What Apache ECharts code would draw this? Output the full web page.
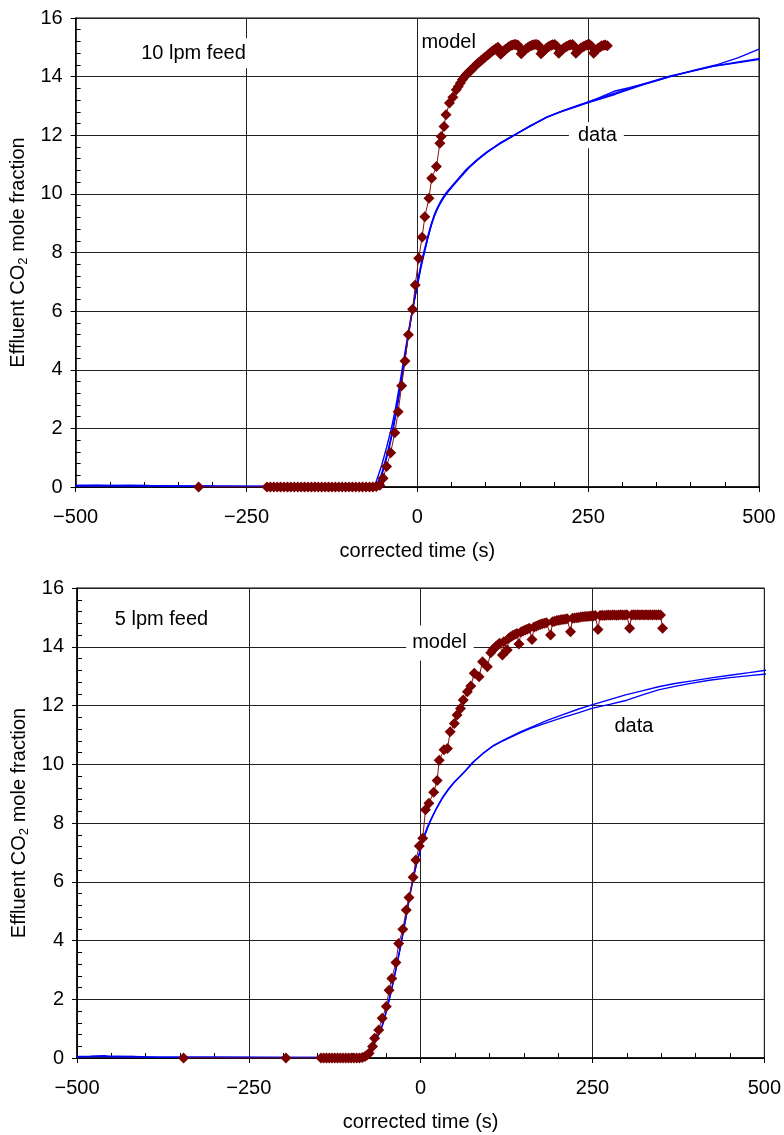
<!DOCTYPE html>
<html>
<head>
<meta charset="utf-8">
<script src="https://cdn.jsdelivr.net/npm/echarts@6/dist/echarts.min.js"></script>
<style>
  html, body { margin: 0; background: #fff; }
  #chart { width: 784px; height: 1135px; }
</style>
</head>
<body>
<div id="chart"></div>
<script>
// axis ranges / tick steps
const xRange = [-500, 500];
const xStep = 250;
const yRange = [0, 16];
const yStep = 2;

// ---- top panel: 10 lpm feed ----
const model10 = [
  [-320, 0],
  [-220, 0], [-215, 0], [-210, 0], [-205, 0], [-200, 0], [-195, 0], [-190, 0], [-185, 0], [-180, 0],
  [-175, 0], [-170, 0], [-165, 0], [-160, 0], [-155, 0], [-150, 0], [-145, 0], [-140, 0], [-135, 0],
  [-130, 0], [-125, 0], [-120, 0], [-115, 0], [-110, 0], [-105, 0], [-100, 0], [-95, 0], [-90, 0],
  [-85, 0], [-80, 0], [-75, 0], [-70, 0], [-65, 0], [-60, 0.02],
  [-55, 0.06], [-50, 0.3], [-45, 0.7], [-39, 1.17], [-33, 1.85], [-28, 2.57], [-23, 3.45], [-18, 4.3],
  [-13, 5.19], [-7, 6.06], [-3, 6.89], [2, 7.8], [7, 8.52], [11, 9.22], [17, 9.85], [21, 10.53],
  [28, 10.93], [33, 11.73], [35, 11.96], [39, 12.3], [42, 12.7], [47, 13.1], [52, 13.3], [57, 13.55],
  [60, 13.66], [63, 13.78], [66, 13.9], [69, 14.0], [71, 14.05], [74, 14.12], [77, 14.19], [79, 14.23],
  [82, 14.3], [84, 14.35], [87, 14.42], [90, 14.48], [93, 14.54], [96, 14.6], [99, 14.66], [103, 14.74],
  [106, 14.8], [109, 14.86], [112, 14.91], [115, 14.96], [118, 15.0],
  [122, 14.76], [124, 14.82], [127, 14.88], [129, 14.93], [132, 14.98], [134, 15.02], [137, 15.06],
  [139, 15.08], [142, 15.1], [144, 15.1], [147, 15.08], [149, 15.0],
  [152, 14.78], [154, 14.84], [157, 14.9], [159, 14.95], [162, 14.99], [164, 15.03], [167, 15.06],
  [169, 15.08], [172, 15.1], [174, 15.1], [177, 15.08], [179, 15.0],
  [181, 14.78], [183, 14.84], [186, 14.9], [188, 14.95], [191, 15.0], [193, 15.04], [196, 15.07],
  [198, 15.09], [201, 15.1], [204, 15.04],
  [207, 14.8], [209, 14.86], [212, 14.92], [214, 14.97], [217, 15.01], [219, 15.04], [222, 15.07],
  [224, 15.09], [227, 15.1], [229, 15.04],
  [232, 14.8], [234, 14.86], [237, 14.92], [239, 14.97], [242, 15.01], [244, 15.04], [247, 15.07],
  [249, 15.09], [252, 15.1], [255, 15.04],
  [258, 14.8], [260, 14.87], [263, 14.93], [265, 14.98], [268, 15.02], [270, 15.05], [273, 15.07],
  [275, 15.08], [278, 15.05]
];
const data10a = [
  [-500, 0.05], [-470, 0.06], [-440, 0.04], [-400, 0.05], [-350, 0.03], [-300, 0.03], [-250, 0.02],
  [-200, 0.02], [-150, 0.02], [-100, 0.02], [-75, 0.03], [-65, 0.05], [-58, 0.15], [-53, 0.4],
  [-48, 0.8], [-43, 1.25], [-38, 1.75], [-33, 2.35], [-28, 3.0], [-23, 3.7], [-18, 4.45], [-13, 5.2],
  [-8, 5.9], [-4, 6.4], [0, 6.85], [5, 7.45], [10, 7.95], [15, 8.45], [20, 8.9], [25, 9.25], [30, 9.52],
  [36, 9.78], [42, 10.0], [50, 10.22], [60, 10.48], [76, 10.9], [90, 11.2], [103, 11.44],
  [120, 11.7], [142, 12.0], [165, 12.32], [190, 12.62], [215, 12.84], [240, 13.04], [265, 13.22],
  [290, 13.4], [330, 13.72], [370, 14.0], [400, 14.17], [433, 14.35], [470, 14.48], [505, 14.6]
];
const data10b = [
  [-500, 0.04], [-460, 0.05], [-420, 0.06], [-380, 0.04], [-300, 0.03], [-200, 0.02], [-100, 0.02],
  [-70, 0.03], [-60, 0.08], [-55, 0.25], [-50, 0.55], [-45, 0.98], [-40, 1.45], [-35, 2.0], [-30, 2.65],
  [-25, 3.35], [-20, 4.1], [-15, 4.9], [-10, 5.65], [-5, 6.3], [0, 6.95], [5, 7.55], [10, 8.05],
  [15, 8.52], [20, 8.95], [25, 9.3], [30, 9.56], [36, 9.82], [42, 10.03], [50, 10.25], [60, 10.52],
  [72, 10.84], [85, 11.12], [100, 11.4], [118, 11.68], [140, 11.98], [162, 12.28], [188, 12.6],
  [212, 12.82], [238, 13.02], [262, 13.24], [288, 13.5], [310, 13.62], [340, 13.8], [370, 14.0],
  [405, 14.22], [440, 14.42], [470, 14.65], [500, 14.94]
];
const data10c = [
  [-500, 0.05], [-300, 0.03], [-150, 0.02], [-70, 0.02], [-62, 0.06], [-57, 0.4], [-52, 0.75],
  [-45, 1.35], [-38, 2.0], [-33, 2.55], [-28, 3.2], [-23, 3.9], [-18, 4.6], [-13, 5.3], [-8, 5.95],
  [-3, 6.55], [2, 7.15], [7, 7.75], [12, 8.2], [17, 8.65], [22, 9.05], [27, 9.38], [33, 9.66],
  [40, 9.92], [48, 10.16], [58, 10.45], [70, 10.78], [85, 11.1], [100, 11.38], [120, 11.72], [140, 11.99],
  [165, 12.3], [190, 12.63], [215, 12.86], [240, 13.06], [265, 13.26], [290, 13.44], [330, 13.74],
  [370, 14.02], [400, 14.18], [433, 14.36], [470, 14.5], [505, 14.63]
];

// ---- bottom panel: 5 lpm feed ----
const model5 = [
  [-345, 0], [-196, 0],
  [-145, 0], [-141, 0], [-137, 0], [-133, 0], [-129, 0], [-125, 0], [-121, 0], [-117, 0], [-113, 0],
  [-109, 0], [-105, 0], [-101, 0], [-97, 0], [-93, 0], [-89, 0], [-85, 0.02], [-81, 0.05], [-78, 0.1],
  [-75, 0.16], [-70, 0.39], [-67, 0.67], [-61, 0.95], [-56, 1.35], [-50, 1.75], [-46, 2.31], [-42, 2.71],
  [-36, 3.25], [-32, 3.9], [-26, 4.38], [-21, 5.04], [-17, 5.46], [-11, 6.15], [-7, 6.74], [-2, 7.22],
  [3, 7.48], [7, 8.45], [12, 8.67], [19, 9.05], [24, 9.45], [27, 10.14], [34, 10.49], [39, 10.54],
  [43, 11.11], [49, 11.39], [53, 11.68], [58, 11.9], [62, 12.19], [68, 12.47], [73, 12.66], [78, 13.1],
  [85, 12.98], [90, 13.49], [97, 13.32], [102, 13.8], [105, 13.9], [107, 13.95], [110, 14.02],
  [112, 14.06], [115, 14.12], [119, 13.72], [121, 14.17], [126, 13.89], [128, 14.28], [131, 14.34],
  [134, 14.38], [137, 14.42], [140, 14.45], [143, 14.09], [146, 14.5], [149, 14.54], [152, 14.57],
  [155, 14.6], [158, 14.63], [162, 14.25], [165, 14.67], [168, 14.7], [171, 14.73], [174, 14.76],
  [177, 14.78], [180, 14.8], [183, 14.82], [189, 14.4], [192, 14.85], [195, 14.87], [198, 14.89],
  [201, 14.9], [204, 14.92], [207, 14.93], [210, 14.94], [213, 14.95], [218, 14.51], [221, 14.97],
  [224, 14.98], [227, 14.99], [230, 15.0], [233, 15.01], [236, 15.02], [239, 15.03], [242, 15.03],
  [245, 15.04], [248, 15.05], [251, 15.05], [254, 15.06], [258, 14.59], [261, 15.06], [264, 15.07],
  [267, 15.06], [270, 15.07], [273, 15.08], [276, 15.07], [279, 15.08], [282, 15.08], [285, 15.07],
  [288, 15.08], [291, 15.09], [294, 15.08], [297, 15.08], [300, 15.09], [304, 14.63], [307, 15.08],
  [310, 15.09], [313, 15.08], [316, 15.09], [319, 15.08], [322, 15.09], [325, 15.08], [328, 15.09],
  [331, 15.08], [334, 15.09], [337, 15.08], [340, 15.09], [343, 15.08], [346, 15.09], [349, 15.08],
  [352, 14.63]
];
const data5a = [
  [-500, 0.05], [-480, 0.06], [-460, 0.08], [-450, 0.04], [-420, 0.05], [-380, 0.03], [-300, 0.03],
  [-200, 0.02], [-120, 0.02], [-95, 0.03], [-85, 0.06], [-80, 0.1], [-75, 0.22], [-68, 0.45],
  [-60, 0.85], [-55, 1.15], [-48, 1.75], [-42, 2.35], [-36, 3.0], [-30, 3.7], [-26, 4.2], [-20, 4.95],
  [-16, 5.5], [-10, 6.2], [-5, 6.7], [0, 7.1], [4, 7.45], [10, 7.82], [15, 8.1], [22, 8.45], [31, 8.82],
  [40, 9.12], [48, 9.36], [58, 9.6], [66, 9.8], [75, 10.05], [90, 10.35], [104, 10.6], [120, 10.8],
  [143, 11.05], [160, 11.22], [182, 11.4], [205, 11.58], [228, 11.74], [249, 11.9], [275, 12.04],
  [300, 12.18], [325, 12.38], [346, 12.53], [370, 12.65], [395, 12.76], [420, 12.86], [450, 12.95],
  [475, 13.01], [505, 13.08]
];
const data5b = [
  [-500, 0.04], [-470, 0.05], [-440, 0.06], [-400, 0.04], [-300, 0.03], [-200, 0.02], [-110, 0.02],
  [-90, 0.04], [-82, 0.08], [-76, 0.2], [-70, 0.4], [-62, 0.78], [-56, 1.1], [-49, 1.68], [-43, 2.28],
  [-37, 2.92], [-31, 3.62], [-27, 4.1], [-21, 4.85], [-17, 5.42], [-11, 6.1], [-6, 6.62], [-1, 7.05],
  [4, 7.5], [10, 7.88], [16, 8.18], [23, 8.5], [32, 8.88], [41, 9.18], [50, 9.42], [60, 9.65],
  [68, 9.85], [78, 10.1], [92, 10.4], [106, 10.64], [122, 10.84], [145, 11.1], [163, 11.28],
  [185, 11.5], [208, 11.7], [230, 11.88], [249, 12.02], [275, 12.2], [298, 12.36], [322, 12.5],
  [346, 12.64], [370, 12.75], [395, 12.84], [425, 12.95], [450, 13.03], [478, 13.12], [505, 13.21]
];

// annotation texts, anchored in data coords [x, y] (left edge, vertical middle)
const notes = [
  { grid: 0, text: '10 lpm feed', at: [-404, 14.8], pad: [5, 2, 5, 2] },
  { grid: 0, text: 'model', at: [6, 15.15], pad: [2, 2, 2, 2] },
  { grid: 0, text: 'data', at: [235, 12.0], pad: [3, 7, 3, 9] },
  { grid: 1, text: '5 lpm feed', at: [-445, 14.94], pad: [3, 2, 3, 2] },
  { grid: 1, text: 'model', at: [-12.3, 14.13], pad: [9, 7, 6, 6] },
  { grid: 1, text: 'data', at: [282, 11.3], pad: [2, 2, 2, 2] }
];

const FONT = 'Liberation Sans, Arial, sans-serif';
const modelColor = '#7a0000';
const dataColor = '#0000ff';

function fmtX(v) {
  return v < 0 ? '\u2212' + Math.abs(v) : String(v);
}

function xAxis(i) {
  return {
    type: 'value', gridIndex: i, min: xRange[0], max: xRange[1], interval: xStep,
    name: 'corrected time (s)', nameLocation: 'middle', nameGap: 54,
    nameTextStyle: { color: '#000', fontSize: 20, fontFamily: FONT },
    axisLine: { onZero: false, lineStyle: { color: '#000', width: 1.5 } },
    axisTick: { show: true, length: 5, lineStyle: { color: '#000' } },
    minorTick: { show: true, splitNumber: 5, length: -5, lineStyle: { color: '#000' } },
    axisLabel: { color: '#000', fontSize: 20, fontFamily: FONT, margin: 20, formatter: fmtX },
    splitLine: { show: true, lineStyle: { color: '#222', width: 1 } }
  };
}

function yAxis(i) {
  return {
    type: 'value', gridIndex: i, min: yRange[0], max: yRange[1], interval: yStep,
    name: '{n|Effluent CO}{s|2}{n| mole fraction}', nameLocation: 'middle', nameGap: 39, nameRotate: 90,
    nameTextStyle: {
      color: '#000', fontFamily: FONT,
      rich: {
        n: { fontSize: 20, fontFamily: FONT, color: '#000' },
        s: { fontSize: 13, fontFamily: FONT, color: '#000', padding: [10, 0, 0, 0] }
      }
    },
    axisLine: { onZero: false, lineStyle: { color: '#000', width: 1.5 } },
    axisTick: { show: true, length: 5, lineStyle: { color: '#000' } },
    minorTick: { show: true, splitNumber: 5, length: -5, lineStyle: { color: '#000' } },
    axisLabel: { color: '#000', fontSize: 20, fontFamily: FONT, margin: 13 },
    splitLine: { show: true, lineStyle: { color: '#222', width: 1 } }
  };
}

function dataSeries(d, i) {
  return {
    type: 'line', data: d, xAxisIndex: i, yAxisIndex: i, symbol: 'none',
    lineStyle: { color: dataColor, width: 1.4 }, z: 2
  };
}

function modelSeries(d, i) {
  return {
    type: 'line', data: d, xAxisIndex: i, yAxisIndex: i,
    symbol: 'diamond', symbolSize: 11, showAllSymbol: true,
    itemStyle: { color: modelColor },
    lineStyle: { color: '#8a1010', width: 1 }, z: 3
  };
}

const chart = echarts.init(document.getElementById('chart'), null, { renderer: 'canvas' });
chart.setOption({
  animation: false,
  backgroundColor: '#fff',
  grid: [
    { left: 73, top: 18, width: 686, height: 469, show: true, borderColor: '#000', borderWidth: 1, backgroundColor: 'transparent' },
    { left: 77, top: 588, width: 689, height: 470, show: true, borderColor: '#000', borderWidth: 1, backgroundColor: 'transparent' }
  ],
  xAxis: [xAxis(0), xAxis(1)],
  yAxis: [yAxis(0), yAxis(1)],
  series: [
    dataSeries(data10a, 0), dataSeries(data10b, 0), dataSeries(data10c, 0), modelSeries(model10, 0),
    dataSeries(data5a, 1), dataSeries(data5b, 1), modelSeries(model5, 1)
  ]
});

// place the text annotations from their data coordinates
const graphics = notes.map(function (n) {
  const p = chart.convertToPixel({ gridIndex: n.grid }, n.at);
  return {
    type: 'text', z: 100,
    style: {
      text: n.text, x: p[0] - n.pad[3], y: p[1],
      font: '20px ' + FONT, fill: '#000',
      verticalAlign: 'middle', align: 'left',
      backgroundColor: '#fff', padding: n.pad
    }
  };
});
chart.setOption({ graphic: graphics });
</script>
</body>
</html>
